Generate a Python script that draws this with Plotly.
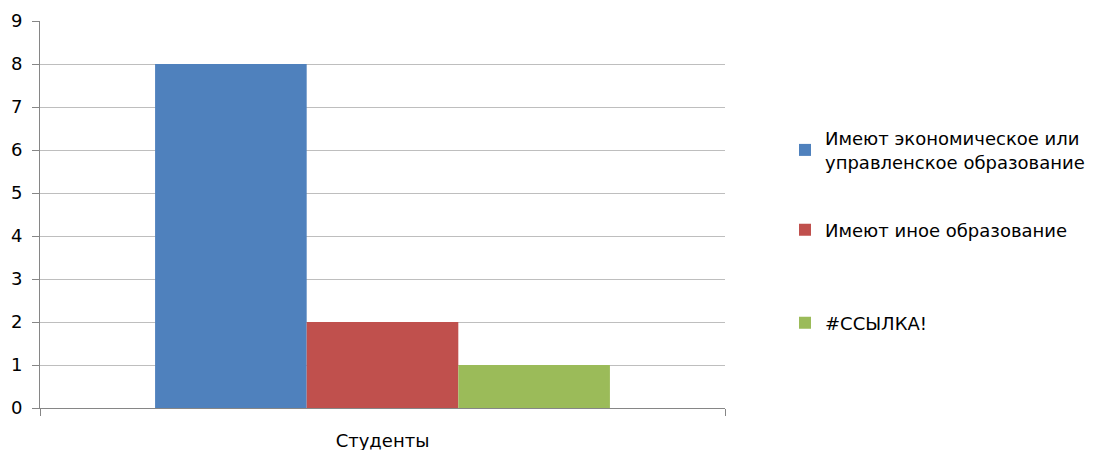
import plotly.graph_objects as go

categories = ["Студенты"]
series_names = ["Имеют экономическое или<br>управленское образование",
                "Имеют иное образование",
                "#ССЫЛКА!"]
series_values = [[8], [2], [1]]
series_colors = ["#4F81BD", "#C0504D", "#9BBB59"]
y_ticks = list(range(0, 10))

FONT = "DejaVu Sans"
FS = 18
W, H = 1104, 442  # page body has an 8px default margin
fig = go.Figure()
legend_ids = ["legend", "legend2", "legend3"]
for name, vals, col, lg in zip(series_names, series_values, series_colors, legend_ids):
    fig.add_trace(go.Bar(x=categories, y=vals, name=name, marker_color=col,
                         marker_line_width=0, legend=lg, showlegend=True))

leg_common = dict(xref="container", yref="container", x=777 / W, xanchor="left",
                  yanchor="middle", font=dict(family=FONT, size=FS, color="#000000"),
                  bgcolor="rgba(0,0,0,0)", borderwidth=0, itemclick=False)
fig.update_layout(
    width=W, height=H,
    margin=dict(l=32, r=387, t=13, b=42),
    paper_bgcolor="white", plot_bgcolor="white",
    barmode="group", bargap=0.336, bargroupgap=0,
    showlegend=True,
    font=dict(family=FONT, size=FS, color="#000000"),
    legend=dict(y=1 - 142 / H, **leg_common),
    legend2=dict(y=1 - 222 / H, **leg_common),
    legend3=dict(y=1 - 315 / H, **leg_common),
    xaxis=dict(showline=True, linecolor="#868686", linewidth=1, ticks="outside",
               tickson="boundaries", ticklen=7, tickcolor="#868686", showgrid=False,
               automargin=False,
               ticklabelstandoff=16, tickfont=dict(family=FONT, size=FS)),
    yaxis=dict(range=[0, 9], tickvals=y_ticks, showline=True, linecolor="#868686",
               linewidth=1, ticks="outside", ticklen=7, tickcolor="#868686",
               showgrid=True, gridcolor="#BEBEBE", gridwidth=1, zeroline=False,
               automargin=False,
               ticklabelstandoff=6, tickfont=dict(family=FONT, size=FS)),
)
fig.write_html("out.html")
